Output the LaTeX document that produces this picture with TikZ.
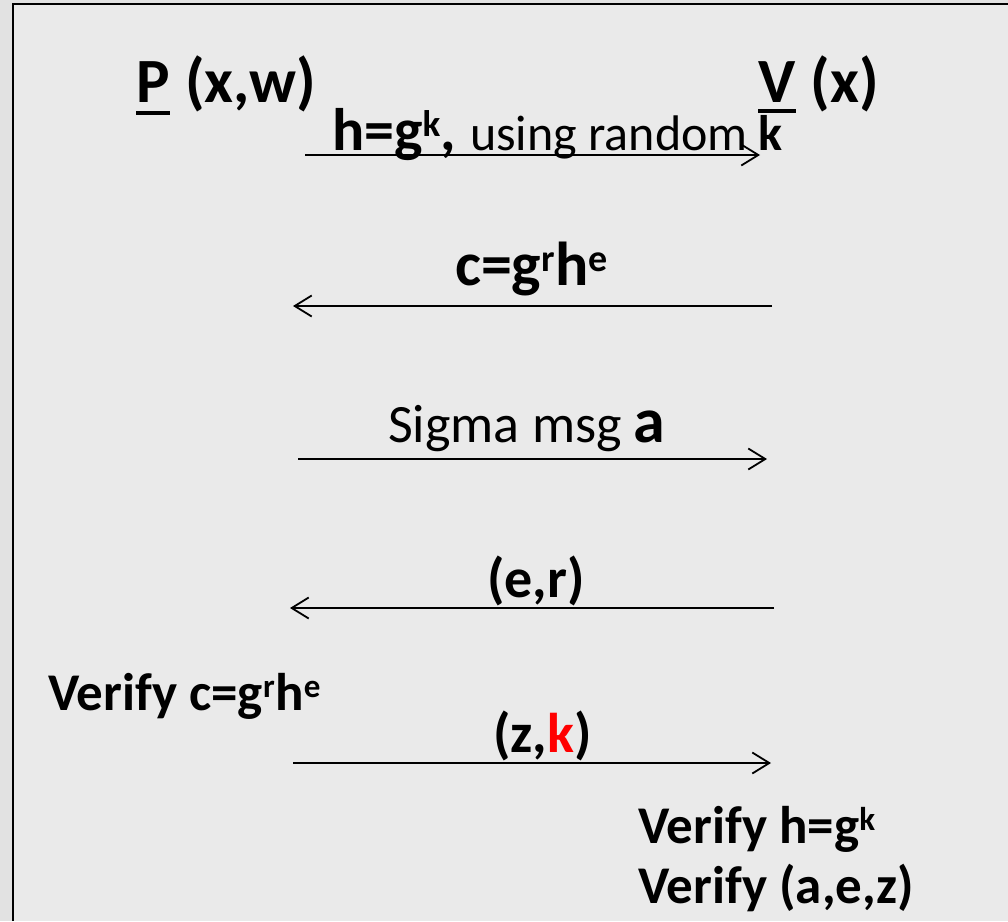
\documentclass[tikz,border=0pt]{standalone}
\usepackage{fontspec}
\setmainfont{Carlito}
\usetikzlibrary{arrows.meta,positioning}
\definecolor{slidegray}{HTML}{EAEAEA}
\definecolor{outergray}{HTML}{E2E2E2}
\definecolor{kred}{HTML}{FF0000}
\DeclareMathSizes{60}{60}{37}{30}
\DeclareMathSizes{62}{62}{38}{31}
\DeclareMathSizes{53}{53}{33}{27}
\newcommand{\upidx}[1]{\textsuperscript{\raisebox{0.12em}{#1}}}
\tikzset{
  big style/.style={inner sep=0pt, anchor=base west, font=\fontsize{63}{74}\selectfont\bfseries},
  lbl style/.style={inner sep=0pt, anchor=base west, font=\fontsize{56}{66}\selectfont\bfseries},
  reg style/.style={inner sep=0pt, anchor=base west, font=\fontsize{54}{64}\selectfont},
  vfy style/.style={inner sep=0pt, anchor=base west, font=\fontsize{53}{63}\selectfont\bfseries},
  arr style/.style={-{Straight Barb[length=17pt,width=21pt]}, line width=1.8pt},
  ul style/.style={line width=3.5pt}
}

\begin{document}
\begin{tikzpicture}[x=1pt,y=-1pt]
\useasboundingbox (0,0) rectangle (1008,921);
\fill[outergray] (0,0) rectangle (1008,921);
\fill[slidegray] (13,4) rectangle (1008,921);
\draw[line width=2.2pt] (13,921) -- (13,4) -- (1008,4);
\node[big style] (P) at (136,102) {P};
\node[big style, base right=15pt of P] (Pin) {(x,w)};
\draw[ul style] ([yshift=-11pt]P.base west) -- ([yshift=-11pt]P.base east);
\node[big style] (V) at (758,102) {V};
\node[big style, base right=15pt of V] (Vin) {(x)};
\draw[ul style] ([yshift=-9pt]V.base west) -- ([yshift=-9pt]V.base east);
\node[lbl style, font=\fontsize{60}{70}\selectfont\bfseries] (hmsg) at (332,150) {h=g\upidx{k}, {\mdseries\fontsize{50}{60}\selectfont using random \bfseries k}};
\node[lbl style, font=\fontsize{62}{72}\selectfont\bfseries] (cmsg) at (455,285) {c=g\upidx{r}h\upidx{e}};
\node[reg style] (amsg) at (388,442) {Sigma msg {\bfseries\fontsize{64}{70}\selectfont a}};
\node[lbl style] (ermsg) at (487,597) {(e,r)};
\node[vfy style] (pchk) at (48,710) {Verify c=g\upidx{r}h\upidx{e}};
\node[lbl style] (zkmsg) at (493,752) {(z,\textcolor{kred}{k})};
\node[vfy style] (vchk1) at (638,843) {Verify h=g\upidx{k}};
\node[vfy style] (vchk2) at (638,903) {Verify (a,e,z)};
\coordinate (p1) at (305,155); \coordinate (v1) at (760,155);
\coordinate (p2) at (293,306); \coordinate (v2) at (772,306);
\coordinate (p3) at (298,459); \coordinate (v3) at (767,459);
\coordinate (p4) at (290,608); \coordinate (v4) at (774,608);
\coordinate (p5) at (293,763); \coordinate (v5) at (771,763);
\draw[arr style] (p1) -- (v1);
\draw[arr style] (v2) -- (p2);
\draw[arr style] (p3) -- (v3);
\draw[arr style] (v4) -- (p4);
\draw[arr style] (p5) -- (v5);
\end{tikzpicture}
\end{document}
